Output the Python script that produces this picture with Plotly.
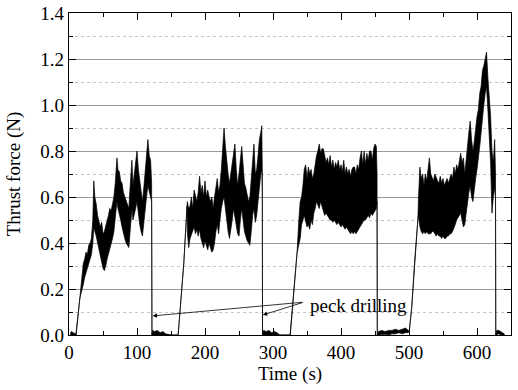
import plotly.graph_objects as go

# ---- Data (time in s, lower / upper envelope of thrust force in N) ----
c1_t = [2, 4, 6, 8, 10, 10.5, 13, 16, 18, 19, 21, 23, 25, 27, 29, 31, 33, 35, 36.5,
        38, 40, 42, 44, 46, 48, 50, 52, 54, 56, 58, 60, 62, 64, 66, 68, 70.5,
        72, 74, 76, 78, 80, 82, 84, 86, 88, 90, 92.5,
        94, 96, 98, 100, 102, 104, 106, 108, 110, 112, 114, 116, 118, 120, 121.5, 122,
        123, 126, 130, 134, 138, 142, 150, 160]
c1_lo = [0, 0, 0, 0, 0, 0, 0.08, 0.16, 0.19, 0.2, 0.22, 0.25, 0.27, 0.3, 0.31, 0.33, 0.35, 0.4, 0.47,
         0.45, 0.43, 0.4, 0.37, 0.34, 0.32, 0.29, 0.28, 0.3, 0.33, 0.35, 0.38, 0.4, 0.42, 0.45, 0.5, 0.58,
         0.55, 0.52, 0.5, 0.47, 0.44, 0.42, 0.4, 0.39, 0.38, 0.45, 0.55,
         0.5, 0.52, 0.55, 0.58, 0.53, 0.48, 0.45, 0.43, 0.48, 0.55, 0.6, 0.65, 0.62, 0.6, 0.58, 0,
         0, 0, 0, 0, 0, 0, 0, 0]
c1_hi = [0.01, 0.015, 0.01, 0.008, 0.005, 0, 0.08, 0.17, 0.22, 0.26, 0.31, 0.33, 0.36, 0.35, 0.39, 0.4, 0.42, 0.5, 0.67,
         0.6, 0.57, 0.52, 0.5, 0.47, 0.49, 0.44, 0.45, 0.47, 0.5, 0.52, 0.55, 0.54, 0.57, 0.6, 0.66, 0.77,
         0.72, 0.71, 0.67, 0.66, 0.62, 0.6, 0.58, 0.56, 0.55, 0.65, 0.76,
         0.65, 0.7, 0.75, 0.8, 0.72, 0.68, 0.62, 0.58, 0.64, 0.72, 0.78, 0.85, 0.78, 0.76, 0.66, 0,
         0.02, 0.015, 0.02, 0.01, 0.015, 0.005, 0, 0]

c2_t = [160.5, 168.8, 173.5,
        174, 176, 178, 180, 182, 184, 186, 188, 190, 192, 194, 196, 198, 200, 202, 204, 206, 208,
        210, 212, 214, 216, 218, 220, 222, 224, 226, 228, 230, 232, 234, 236, 238, 240, 242, 244,
        246, 248, 250, 252, 254, 256, 258, 260, 262, 264, 266, 268, 270, 272, 274, 276, 278, 280, 282,
        283.5, 284.3, 284.6, 286, 290, 294, 298, 302, 306, 310, 325]
c2_lo = [0, 0.31, 0.56,
         0.45, 0.38, 0.42, 0.44, 0.45, 0.47, 0.44, 0.46, 0.43, 0.46, 0.42, 0.4, 0.38, 0.41, 0.39, 0.37, 0.4, 0.38,
         0.36, 0.37, 0.4, 0.45, 0.48, 0.44, 0.5, 0.55, 0.58, 0.6, 0.56, 0.5, 0.45, 0.42, 0.45, 0.5, 0.55, 0.52,
         0.48, 0.44, 0.43, 0.5, 0.55, 0.5, 0.45, 0.43, 0.41, 0.4, 0.39, 0.45, 0.52, 0.55, 0.49, 0.52, 0.58, 0.62, 0.7,
         0.72, 0.62, 0, 0, 0, 0, 0, 0, 0, 0, 0]
c2_hi = [0, 0.31, 0.56,
         0.58, 0.55, 0.56, 0.6, 0.55, 0.63, 0.6, 0.58, 0.62, 0.69, 0.62, 0.65, 0.6, 0.67, 0.6, 0.63, 0.6, 0.58,
         0.6, 0.55, 0.6, 0.65, 0.68, 0.62, 0.65, 0.72, 0.8, 0.9, 0.82, 0.74, 0.7, 0.66, 0.7, 0.74, 0.8, 0.83,
         0.72, 0.65, 0.7, 0.75, 0.82, 0.74, 0.66, 0.64, 0.6, 0.58, 0.6, 0.68, 0.75, 0.83, 0.7, 0.72, 0.78, 0.85, 0.88,
         0.91, 0.7, 0, 0.02, 0.015, 0.02, 0.01, 0.015, 0.01, 0, 0]

c3_t = [325.5, 335.3, 337, 338,
        340, 342, 344, 346, 348, 350, 352, 354, 356, 358, 360, 362, 364, 366, 368, 370, 372, 374, 376, 378,
        380, 382, 384, 386, 388, 390, 392, 394, 396, 398, 400, 402, 404, 406, 408, 410, 412, 414, 416, 418,
        420, 422, 424, 426, 428, 430, 432, 434, 436, 438, 440, 442, 444, 446, 448, 450, 452,
        453, 453.4, 455, 460, 465, 470, 475, 480, 485, 490, 495, 499]
c3_lo = [0, 0.355, 0.38, 0.38,
         0.42, 0.48, 0.5, 0.52, 0.5, 0.47, 0.48, 0.46, 0.5, 0.48, 0.53, 0.55, 0.58, 0.57, 0.55, 0.58, 0.56, 0.54, 0.52, 0.53,
         0.52, 0.51, 0.5, 0.5, 0.49, 0.5, 0.49, 0.48, 0.49, 0.48, 0.47, 0.48, 0.47, 0.46, 0.47, 0.46, 0.45, 0.44, 0.45, 0.44,
         0.45, 0.44, 0.45, 0.46, 0.47, 0.48, 0.49, 0.5, 0.5, 0.51, 0.52, 0.51, 0.53, 0.52, 0.53, 0.54, 0.55,
         0.58, 0, 0, 0, 0.003, 0, 0.005, 0.005, 0.01, 0.005, 0.01, 0.01]
c3_hi = [0, 0.355, 0.42, 0.5,
         0.58, 0.6, 0.65, 0.72, 0.74, 0.68, 0.73, 0.7, 0.72, 0.68, 0.7, 0.75, 0.78, 0.8, 0.83, 0.79, 0.81, 0.81, 0.78, 0.75,
         0.77, 0.74, 0.78, 0.73, 0.76, 0.72, 0.75, 0.73, 0.76, 0.72, 0.74, 0.71, 0.76, 0.7, 0.73, 0.7, 0.72, 0.69, 0.72, 0.73,
         0.73, 0.7, 0.74, 0.72, 0.77, 0.8, 0.74, 0.8, 0.74, 0.79, 0.76, 0.8, 0.8, 0.76, 0.81, 0.83, 0.82,
         0.7, 0, 0.015, 0.02, 0.015, 0.02, 0.02, 0.025, 0.02, 0.025, 0.03, 0.02]

c4_t = [500.5, 504, 508.5, 513, 514,
        516, 518, 520, 522, 524, 526, 528, 530, 532, 534, 536, 538, 540, 542, 544, 546, 548, 550,
        552, 554, 556, 558, 560, 562, 564, 566, 568, 570, 572, 574, 576, 578, 580, 582, 584, 586,
        588, 590, 592, 594, 596, 598, 600, 602, 604, 606, 608, 610, 612, 614, 616, 618, 620, 622, 624, 626,
        627.2, 627.6, 629, 632, 635, 638, 640]
c4_lo = [0.02, 0.12, 0.33, 0.5, 0.52,
         0.47, 0.45, 0.44, 0.45, 0.44, 0.45, 0.44, 0.44, 0.44, 0.45, 0.45, 0.44, 0.43, 0.44, 0.43, 0.43, 0.42, 0.43,
         0.42, 0.42, 0.43, 0.43, 0.44, 0.44, 0.45, 0.46, 0.48, 0.5, 0.51, 0.52, 0.53, 0.5, 0.47, 0.48, 0.53, 0.58,
         0.62, 0.65, 0.6, 0.58, 0.62, 0.68, 0.72, 0.76, 0.82, 0.88, 0.95, 1.0, 1.05, 1.08, 0.98, 0.9, 0.75, 0.53, 0.6, 0.64,
         0.6, 0, 0, 0.005, 0, 0, 0]
c4_hi = [0.02, 0.12, 0.33, 0.5, 0.6,
         0.73, 0.68, 0.7, 0.65, 0.7, 0.67, 0.72, 0.77, 0.7, 0.68, 0.67, 0.7, 0.68, 0.67, 0.66, 0.69, 0.66, 0.68,
         0.65, 0.67, 0.68, 0.66, 0.68, 0.7, 0.68, 0.73, 0.7, 0.74, 0.72, 0.76, 0.79, 0.75, 0.77, 0.7, 0.75, 0.82,
         0.88, 0.93, 0.85, 0.8, 0.84, 0.9, 0.95, 0.98, 1.05, 1.08, 1.15, 1.17, 1.2, 1.23, 1.12, 1.05, 0.95, 0.8, 0.75, 0.85,
         0.7, 0, 0.02, 0.02, 0.015, 0.01, 0.005]

x_ticks = [0, 100, 200, 300, 400, 500, 600]
y_ticks = [0.0, 0.2, 0.4, 0.6, 0.8, 1.0, 1.2, 1.4]
note_text = "peck drilling"

# ---- Build the band polygon ----
T, LO, HI = [], [], []
for t, lo, hi in [(c1_t, c1_lo, c1_hi), (c2_t, c2_lo, c2_hi), (c3_t, c3_lo, c3_hi), (c4_t, c4_lo, c4_hi)]:
    assert len(t) == len(lo) == len(hi), (len(t), len(lo), len(hi))
    T += t
    LO += lo
    HI += hi

poly_x = T + T[::-1]
poly_y = HI + LO[::-1]

FONT = "Times New Roman"
FONT_TXT = "serif"
fig = go.Figure()
fig.add_trace(go.Scatter(
    x=poly_x, y=poly_y, mode="lines", fill="toself", fillcolor="black",
    line=dict(color="black", width=0.7), hoverinfo="skip", showlegend=False))

# arrows
for hx, hy in [(123, 0.083), (285, 0.087)]:
    fig.add_annotation(x=hx, y=hy, ax=345.5, ay=0.143, xref="x", yref="y", axref="x", ayref="y",
                       text="", showarrow=True, arrowhead=2, arrowsize=1.1, arrowwidth=0.8,
                       arrowcolor="black")
fig.add_annotation(x=351, y=0.13, xref="x", yref="y", text=note_text, showarrow=False,
                   xanchor="left", yanchor="middle", font=dict(family=FONT_TXT, size=19, color="black"))

fig.update_layout(
    width=518, height=390,
    margin=dict(l=69, r=7, t=13, b=55, autoexpand=False),
    paper_bgcolor="white", plot_bgcolor="white",
    font=dict(family=FONT_TXT, size=19, color="black"),
    xaxis=dict(
        range=[0, 650], tickvals=x_ticks, ticks="inside", ticklen=7, tickwidth=1, tickcolor="black",
        minor=dict(dtick=50, tick0=0, ticks="inside", ticklen=4, tickcolor="black"),
        showline=True, linecolor="black", linewidth=1.2, mirror="ticks",
        showgrid=False, zeroline=False, automargin=False,
        tickfont=dict(family=FONT_TXT, size=19),
        title=dict(text="Time (s)", standoff=4, font=dict(family=FONT, size=19)),
    ),
    yaxis=dict(
        range=[0, 1.4], tickvals=y_ticks, tickformat=".1f", ticks="inside", ticklen=7, tickwidth=1,
        tickcolor="black",
        minor=dict(dtick=0.1, tick0=0, ticks="inside", ticklen=4, tickcolor="black",
                   showgrid=True, gridcolor="#c4c4c4", griddash="dot", gridwidth=1),
        showline=True, linecolor="black", linewidth=1.2, mirror="ticks",
        showgrid=True, gridcolor="#9a9a9a", gridwidth=1, zeroline=False, automargin=False,
        tickfont=dict(family=FONT_TXT, size=19),
        title=dict(text="Thrust force (N)", standoff=14, font=dict(family=FONT, size=19)),
    ),
)

fig.write_html("out.html", config={"displayModeBar": False},
               post_script="document.body.style.margin='0px';document.body.style.padding='0px';")
